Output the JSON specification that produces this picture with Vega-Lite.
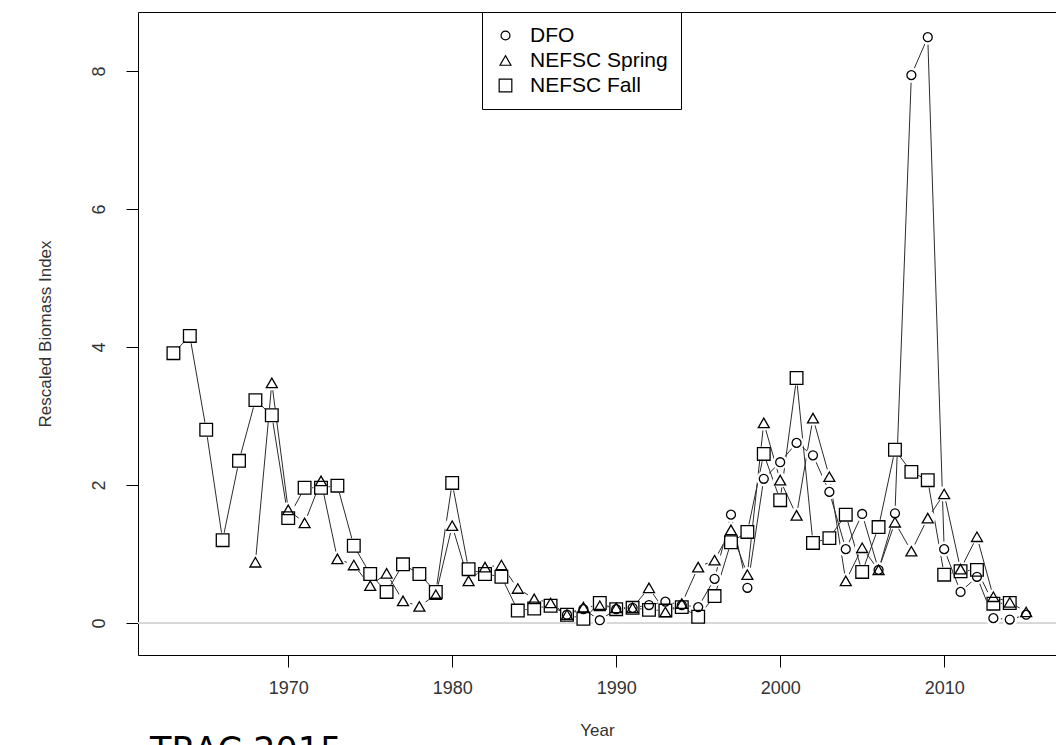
{
  "$schema": "https://vega.github.io/schema/vega-lite/v6.json",
  "width": 918,
  "height": 643,
  "autosize": {"type": "none"},
  "padding": {"left": 138, "top": 12, "right": 0, "bottom": 90},
  "background": "white",
  "config": {"view": {"stroke": null}, "font": "Liberation Sans"},
  "title": {"text": "TRAC 2015", "orient": "bottom", "anchor": "start", "frame": "group", "font": "DejaVu Sans", "fontSize": 35, "fontWeight": "normal", "color": "black", "dx": 12, "offset": 0, "dy": -4},
  "data": {"values": [
    {"year":1963,"series":"NEFSC Fall","value":3.91},{"year":1964,"series":"NEFSC Fall","value":4.16},{"year":1965,"series":"NEFSC Fall","value":2.80},{"year":1966,"series":"NEFSC Fall","value":1.20},{"year":1967,"series":"NEFSC Fall","value":2.35},{"year":1968,"series":"NEFSC Fall","value":3.23},{"year":1969,"series":"NEFSC Fall","value":3.01},{"year":1970,"series":"NEFSC Fall","value":1.52},{"year":1971,"series":"NEFSC Fall","value":1.96},{"year":1972,"series":"NEFSC Fall","value":1.96},{"year":1973,"series":"NEFSC Fall","value":1.99},{"year":1974,"series":"NEFSC Fall","value":1.12},{"year":1975,"series":"NEFSC Fall","value":0.71},{"year":1976,"series":"NEFSC Fall","value":0.45},{"year":1977,"series":"NEFSC Fall","value":0.85},{"year":1978,"series":"NEFSC Fall","value":0.71},{"year":1979,"series":"NEFSC Fall","value":0.45},{"year":1980,"series":"NEFSC Fall","value":2.03},{"year":1981,"series":"NEFSC Fall","value":0.78},{"year":1982,"series":"NEFSC Fall","value":0.71},{"year":1983,"series":"NEFSC Fall","value":0.67},{"year":1984,"series":"NEFSC Fall","value":0.18},{"year":1985,"series":"NEFSC Fall","value":0.21},{"year":1986,"series":"NEFSC Fall","value":0.25},{"year":1987,"series":"NEFSC Fall","value":0.12},{"year":1988,"series":"NEFSC Fall","value":0.06},{"year":1989,"series":"NEFSC Fall","value":0.29},{"year":1990,"series":"NEFSC Fall","value":0.20},{"year":1991,"series":"NEFSC Fall","value":0.22},{"year":1992,"series":"NEFSC Fall","value":0.19},{"year":1993,"series":"NEFSC Fall","value":0.18},{"year":1994,"series":"NEFSC Fall","value":0.23},{"year":1995,"series":"NEFSC Fall","value":0.09},{"year":1996,"series":"NEFSC Fall","value":0.39},{"year":1997,"series":"NEFSC Fall","value":1.17},{"year":1998,"series":"NEFSC Fall","value":1.32},{"year":1999,"series":"NEFSC Fall","value":2.45},{"year":2000,"series":"NEFSC Fall","value":1.78},{"year":2001,"series":"NEFSC Fall","value":3.55},{"year":2002,"series":"NEFSC Fall","value":1.16},{"year":2003,"series":"NEFSC Fall","value":1.23},{"year":2004,"series":"NEFSC Fall","value":1.57},{"year":2005,"series":"NEFSC Fall","value":0.74},{"year":2006,"series":"NEFSC Fall","value":1.39},{"year":2007,"series":"NEFSC Fall","value":2.51},{"year":2008,"series":"NEFSC Fall","value":2.19},{"year":2009,"series":"NEFSC Fall","value":2.07},{"year":2010,"series":"NEFSC Fall","value":0.70},{"year":2011,"series":"NEFSC Fall","value":0.75},{"year":2012,"series":"NEFSC Fall","value":0.77},{"year":2013,"series":"NEFSC Fall","value":0.28},{"year":2014,"series":"NEFSC Fall","value":0.29},
    {"year":1968,"series":"NEFSC Spring","value":0.88},{"year":1969,"series":"NEFSC Spring","value":3.48},{"year":1970,"series":"NEFSC Spring","value":1.64},{"year":1971,"series":"NEFSC Spring","value":1.45},{"year":1972,"series":"NEFSC Spring","value":2.06},{"year":1973,"series":"NEFSC Spring","value":0.93},{"year":1974,"series":"NEFSC Spring","value":0.84},{"year":1975,"series":"NEFSC Spring","value":0.54},{"year":1976,"series":"NEFSC Spring","value":0.72},{"year":1977,"series":"NEFSC Spring","value":0.32},{"year":1978,"series":"NEFSC Spring","value":0.24},{"year":1979,"series":"NEFSC Spring","value":0.41},{"year":1980,"series":"NEFSC Spring","value":1.41},{"year":1981,"series":"NEFSC Spring","value":0.61},{"year":1982,"series":"NEFSC Spring","value":0.81},{"year":1983,"series":"NEFSC Spring","value":0.84},{"year":1984,"series":"NEFSC Spring","value":0.50},{"year":1985,"series":"NEFSC Spring","value":0.35},{"year":1986,"series":"NEFSC Spring","value":0.29},{"year":1987,"series":"NEFSC Spring","value":0.12},{"year":1988,"series":"NEFSC Spring","value":0.23},{"year":1989,"series":"NEFSC Spring","value":0.25},{"year":1990,"series":"NEFSC Spring","value":0.22},{"year":1991,"series":"NEFSC Spring","value":0.22},{"year":1992,"series":"NEFSC Spring","value":0.51},{"year":1993,"series":"NEFSC Spring","value":0.16},{"year":1994,"series":"NEFSC Spring","value":0.28},{"year":1995,"series":"NEFSC Spring","value":0.81},{"year":1996,"series":"NEFSC Spring","value":0.91},{"year":1997,"series":"NEFSC Spring","value":1.35},{"year":1998,"series":"NEFSC Spring","value":0.70},{"year":1999,"series":"NEFSC Spring","value":2.90},{"year":2000,"series":"NEFSC Spring","value":2.07},{"year":2001,"series":"NEFSC Spring","value":1.56},{"year":2002,"series":"NEFSC Spring","value":2.97},{"year":2003,"series":"NEFSC Spring","value":2.12},{"year":2004,"series":"NEFSC Spring","value":0.61},{"year":2005,"series":"NEFSC Spring","value":1.09},{"year":2006,"series":"NEFSC Spring","value":0.77},{"year":2007,"series":"NEFSC Spring","value":1.46},{"year":2008,"series":"NEFSC Spring","value":1.04},{"year":2009,"series":"NEFSC Spring","value":1.52},{"year":2010,"series":"NEFSC Spring","value":1.87},{"year":2011,"series":"NEFSC Spring","value":0.78},{"year":2012,"series":"NEFSC Spring","value":1.25},{"year":2013,"series":"NEFSC Spring","value":0.38},{"year":2014,"series":"NEFSC Spring","value":0.30},{"year":2015,"series":"NEFSC Spring","value":0.16},
    {"year":1987,"series":"DFO","value":0.12},{"year":1988,"series":"DFO","value":0.20},{"year":1989,"series":"DFO","value":0.04},{"year":1990,"series":"DFO","value":0.20},{"year":1991,"series":"DFO","value":0.22},{"year":1992,"series":"DFO","value":0.26},{"year":1993,"series":"DFO","value":0.31},{"year":1994,"series":"DFO","value":0.26},{"year":1995,"series":"DFO","value":0.23},{"year":1996,"series":"DFO","value":0.64},{"year":1997,"series":"DFO","value":1.57},{"year":1998,"series":"DFO","value":0.51},{"year":1999,"series":"DFO","value":2.09},{"year":2000,"series":"DFO","value":2.33},{"year":2001,"series":"DFO","value":2.61},{"year":2002,"series":"DFO","value":2.43},{"year":2003,"series":"DFO","value":1.90},{"year":2004,"series":"DFO","value":1.07},{"year":2005,"series":"DFO","value":1.58},{"year":2006,"series":"DFO","value":0.77},{"year":2007,"series":"DFO","value":1.59},{"year":2008,"series":"DFO","value":7.94},{"year":2009,"series":"DFO","value":8.49},{"year":2010,"series":"DFO","value":1.07},{"year":2011,"series":"DFO","value":0.45},{"year":2012,"series":"DFO","value":0.67},{"year":2013,"series":"DFO","value":0.07},{"year":2014,"series":"DFO","value":0.05},{"year":2015,"series":"DFO","value":0.12}
  ]},
  "resolve": {"axis": {"x": "independent"}},
  "layer": [
    {
      "mark": {"type": "rule", "color": "#d9d9d9", "strokeWidth": 1},
      "encoding": {"y": {"datum": 0, "type": "quantitative"}}
    },
    {
      "mark": {"type": "line", "color": "#2b2b2b", "strokeWidth": 1},
      "encoding": {
        "x": {"field": "year", "type": "quantitative", "scale": {"domain": [1960.84, 2016.82], "nice": false, "zero": false},
          "axis": {"orient": "bottom", "title": "Year", "values": [1970, 1980, 1990, 2000, 2010], "format": "d", "grid": false,
            "domainColor": "black", "domainWidth": 1, "tickColor": "black", "tickSize": 12, "tickWidth": 1,
            "labelFont": "Liberation Sans", "labelFontSize": 18, "labelColor": "#333", "labelPadding": 12,
            "titleFont": "Liberation Sans", "titleFontSize": 17, "titleFontWeight": "normal", "titleColor": "#333", "titlePadding": 25}},
        "y": {"field": "value", "type": "quantitative", "scale": {"domain": [-0.464, 8.855], "nice": false, "zero": false},
          "axis": {"title": "Rescaled Biomass Index", "values": [0, 2, 4, 6, 8], "format": "d", "grid": false,
            "domainColor": "black", "domainWidth": 1, "tickColor": "black", "tickSize": 12, "tickWidth": 1,
            "labelFont": "Liberation Sans", "labelFontSize": 18, "labelColor": "#333", "labelAngle": 270, "labelAlign": "center", "labelBaseline": "alphabetic", "labelPadding": 22,
            "titleFont": "Liberation Sans", "titleFontSize": 17, "titleFontWeight": "normal", "titleColor": "#333", "titlePadding": 36}},
        "detail": {"field": "series"}
      }
    },
    {
      "mark": {"type": "point", "shape": "circle", "filled": true, "fill": "white", "strokeWidth": 0, "opacity": 1},
      "encoding": {
        "x": {"field": "year", "type": "quantitative", "axis": {"orient": "top", "labels": false, "ticks": false, "title": null, "grid": false, "domainColor": "black", "domainWidth": 1}},
        "y": {"field": "value", "type": "quantitative"},
        "size": {"value": 230}
      }
    },
    {
      "mark": {"type": "point", "filled": false, "color": "black", "strokeWidth": 1.3, "opacity": 1},
      "encoding": {
        "x": {"field": "year", "type": "quantitative", "axis": null},
        "y": {"field": "value", "type": "quantitative"},
        "shape": {"field": "series", "type": "nominal", "scale": {"domain": ["DFO", "NEFSC Spring", "NEFSC Fall"], "range": ["circle", "triangle-up", "square"]},
          "legend": {"title": null, "orient": "none", "legendX": 344, "legendY": 0, "strokeColor": "black", "fillColor": "white", "padding": 13,
            "labelFont": "Liberation Sans", "labelFontSize": 21, "labelColor": "black", "labelOffset": 14, "rowPadding": 3, "symbolStrokeWidth": 1.2, "symbolStrokeColor": "black"}},
        "size": {"field": "series", "type": "nominal", "scale": {"domain": ["DFO", "NEFSC Spring", "NEFSC Fall"], "range": [80, 160, 140]},
          "legend": {"title": null, "orient": "none", "legendX": 344, "legendY": 0, "strokeColor": "black", "fillColor": "white", "padding": 13,
            "labelFont": "Liberation Sans", "labelFontSize": 21, "labelColor": "black", "labelOffset": 14, "rowPadding": 3, "symbolStrokeWidth": 1.2, "symbolStrokeColor": "black"}}
      }
    }
  ]
}
